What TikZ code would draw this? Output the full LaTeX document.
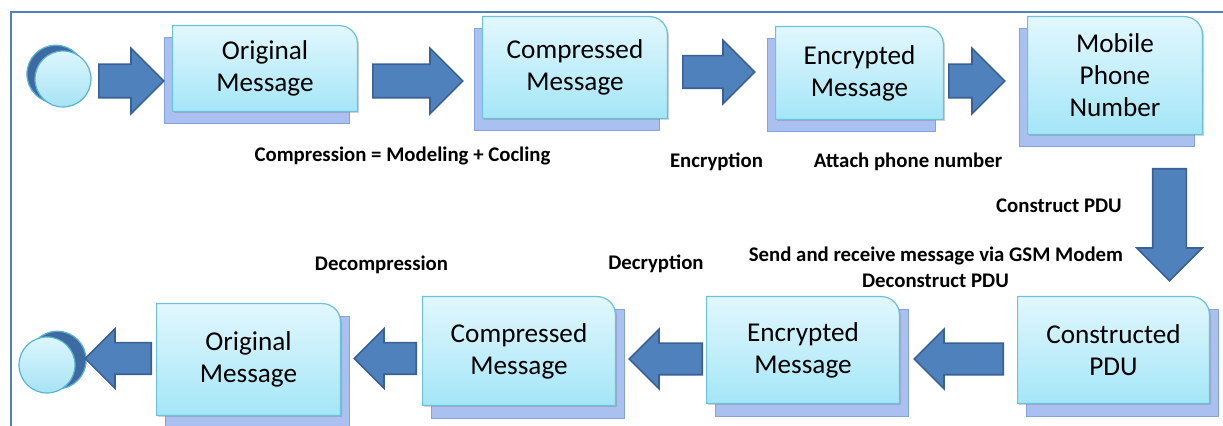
\documentclass[tikz,border=0pt]{standalone}
\usepackage{fontspec}
\setmainfont{Carlito}
\usetikzlibrary{shapes.arrows,shadows,backgrounds}
\definecolor{arrowblue}{HTML}{4F81BD}
\definecolor{arrowedge}{HTML}{3A6195}
\definecolor{boxtop}{HTML}{E2F7FD}
\definecolor{boxbottom}{HTML}{A4E6F7}
\definecolor{boxedge}{HTML}{6CC2D9}
\definecolor{backfill}{HTML}{A9C0F0}
\definecolor{backedge}{HTML}{86A2DC}
\definecolor{balltop}{HTML}{DDF6FD}
\definecolor{ballbottom}{HTML}{A6E3F4}
\definecolor{balledge}{HTML}{5BB4CE}
\definecolor{darkball}{HTML}{3D6AA3}
\tikzset{
  msg/.style={align=center, inner sep=0pt, font=\fontsize{13.6}{16}\selectfont},
  lbl/.style={inner sep=0pt, font=\bfseries\fontsize{10.4}{12}\selectfont},
  ball/.style={circle, inner sep=0pt, minimum size=28pt, draw=balledge, line width=.6pt, top color=balltop, bottom color=ballbottom},
  fatarrow/.style={single arrow, anchor=tail, draw=arrowedge, fill=arrowblue, line width=.8pt, inner sep=8pt, minimum width=32pt, single arrow head extend=8pt, single arrow tip angle=90},
  thinarrow/.style={fatarrow, inner sep=7.5pt, minimum width=29pt, single arrow head extend=7pt, shape border rotate=180},
  frame/.style={arrowblue, line width=1pt}
}
\newcommand{\msgshape}[3]{%
  \draw[backedge, fill=backfill, line width=.6pt] ([xshift=#2,yshift=#3]#1.south west) rectangle ([xshift=#2,yshift=#3]#1.north east);
  \draw[boxedge, line width=.6pt, top color=boxtop, bottom color=boxbottom, drop shadow={shadow xshift=.8pt, shadow yshift=-.8pt, opacity=.35}]
    (#1.south west) -- (#1.north west) -- ([xshift=-9pt]#1.north east)
    .. controls ([xshift=-4pt]#1.north east) and ([yshift=-4pt]#1.north east) .. ([yshift=-9pt]#1.north east)
    -- (#1.south east) -- cycle;
}
\begin{document}
\begin{tikzpicture}[x=0.5pt,y=-0.5pt]
\useasboundingbox (0,0) rectangle (1223,426);
\draw [frame] (11,426) -- (11,12) -- (1223,12);

\node[ball, copy shadow={shadow xshift=-3.5pt, shadow scale=1.03, fill=darkball}] (start) at (63,79) {};
\node[msg, minimum width=92pt, minimum height=42.5pt] (orig) at (265,68.5) {Original\\Message};
\node[msg, minimum width=92pt, minimum height=50.5pt] (comp) at (575,67.5) {Compressed\\Message};
\node[msg, minimum width=83.5pt, minimum height=46pt] (encr) at (859.5,73) {Encrypted\\Message};
\node[msg, minimum width=87pt, minimum height=58.5pt] (mobile) at (1115,75.5) {Mobile\\Phone\\Number};

\node[msg, minimum width=95.5pt, minimum height=53pt] (pdu) at (1113.5,350) {Constructed\\PDU};
\node[msg, minimum width=96pt, minimum height=53pt] (encrback) at (803,350) {Encrypted\\Message};
\node[msg, minimum width=96pt, minimum height=54pt] (compback) at (519,351) {Compressed\\Message};
\node[msg, minimum width=91.5pt, minimum height=55.5pt] (origback) at (248.5,359.5) {Original\\Message};
\node[ball, copy shadow={shadow xshift=5pt, shadow scale=1.03, fill=darkball}] (stop) at (47,365) {};

\begin{scope}[on background layer]
\foreach \n in {orig,comp,encr,mobile} {\msgshape{\n}{-4pt}{-6pt}}
\foreach \n in {pdu,encrback,compback,origback} {\msgshape{\n}{4.5pt}{-6.5pt}}
\end{scope}

\node[fatarrow, minimum height=32.5pt] (a1) at (98,81) {};
\node[fatarrow, minimum height=45pt] (a2) at (372,81) {};
\node[fatarrow, minimum height=36pt, inner sep=7.75pt, minimum width=31pt, single arrow head extend=7.75pt] (a3) at (682,72) {};
\node[fatarrow, minimum height=28pt, inner xsep=4pt] (a4) at (948,81) {};
\node[fatarrow, minimum height=56pt, shape border rotate=270] (a5) at (1169.5,168) {};
\node[thinarrow, minimum height=44.5pt] (b1) at (1004,359) {};
\node[thinarrow, minimum height=36.5pt] (b2) at (703,359) {};
\node[thinarrow, minimum height=31pt] (b3) at (417,358.5) {};
\node[thinarrow, minimum height=33pt] (b4) at (152,358.5) {};

\node[lbl] (lcomp) at (402.5,156) {Compression = Modeling + Cocling};
\node[lbl] (lencr) at (716.5,162) {Encryption};
\node[lbl] (lattach) at (908,162) {Attach phone number};
\node[lbl] (lpdu) at (1059,206) {Construct PDU};
\node[lbl] (lgsm) at (936,256) {Send and receive message via GSM Modem};
\node[lbl] (ldecon) at (935.5,281) {Deconstruct PDU};
\node[lbl] (ldecomp) at (381.5,265) {Decompression};
\node[lbl] (ldecr) at (656,264) {Decryption};
\end{tikzpicture}
\end{document}
